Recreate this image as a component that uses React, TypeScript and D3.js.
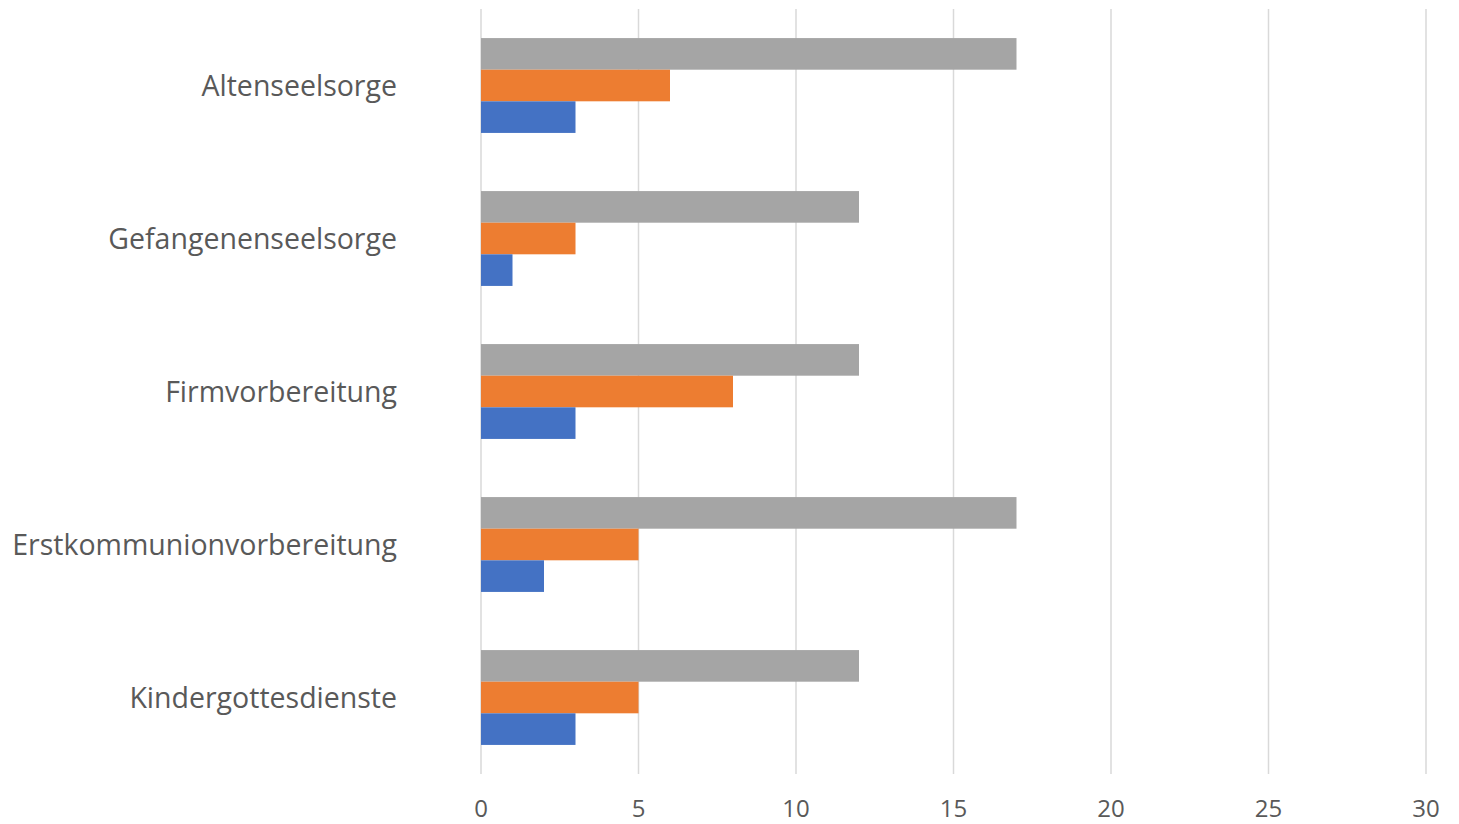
import React from "react";
import * as d3 from "d3";

const categories = ["Altenseelsorge", "Gefangenenseelsorge", "Firmvorbereitung", "Erstkommunionvorbereitung", "Kindergottesdienste"];
const seriesNames = ["Serie 3", "Serie 2", "Serie 1"];
const grayValues = [17, 12, 12, 17, 12];
const orangeValues = [6, 3, 8, 5, 5];
const blueValues = [3, 1, 3, 2, 3];
const tickValues = [0, 5, 10, 15, 20, 25, 30];
const colors = ["#A5A5A5", "#ED7D31", "#4472C4"];

export default function App() {
  const W = 1459, H = 824;
  const left = 481, right = 1426, top = 9, bottom = 774;
  const x = d3.scaleLinear().domain([0, 30]).range([left, right]);
  const y = d3.scaleBand<string>().domain(categories).range([top, bottom]).paddingInner(0.38).paddingOuter(0.19);
  const inner = d3.scaleBand<string>().domain(seriesNames).range([0, y.bandwidth()]);
  const series = [grayValues, orangeValues, blueValues];
  const font = "'Open Sans', sans-serif";
  return (
    <svg width={W} height={H} style={{ position: "absolute", left: 0, top: 0, background: "#fff" }}>
      {tickValues.map((t) => (
        <line key={t} x1={x(t)} x2={x(t)} y1={top} y2={bottom} stroke="#D9D9D9" strokeWidth={1.5} />
      ))}
      {categories.map((c, i) => (
        <g key={c}>
          {series.map((vals, s) => (
            <rect key={s} x={x(0)} y={(y(c) as number) + (inner(seriesNames[s]) as number)} width={x(vals[i]) - x(0)} height={inner.bandwidth()} fill={colors[s]} />
          ))}
          <text x={397} y={(y(c) as number) + y.bandwidth() / 2 + 10.5} textAnchor="end" fontFamily={font} fontSize={28.5} fill="#595959">{c}</text>
        </g>
      ))}
      {tickValues.map((t) => (
        <text key={"l" + t} x={x(t)} y={817} textAnchor="middle" fontFamily={font} fontSize={24} fill="#595959">{t}</text>
      ))}
    </svg>
  );
}
